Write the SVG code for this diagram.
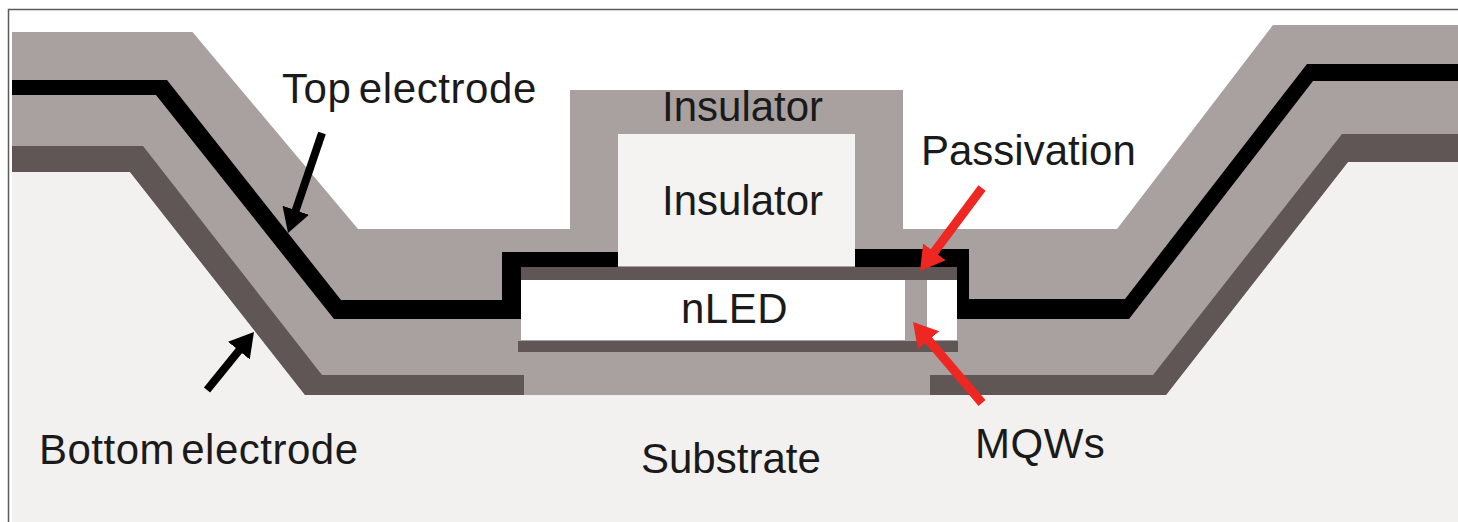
<svg xmlns="http://www.w3.org/2000/svg" width="1458" height="522" viewBox="0 0 1458 522">
<style>
.gray{fill:#a9a19f}.dark{fill:#5f5755}.black{fill:#000}.sub{fill:#f2f1ef}.white{fill:#fff}
text{font-family:"Liberation Sans",Arial,sans-serif;font-size:42px;fill:#1a1a1a}
.ka{stroke:#000;stroke-width:8;fill:none;marker-end:url(#ah)}
.ra{stroke:#ee2722;stroke-width:9;fill:none;marker-end:url(#rh)}
</style>
<defs>
<filter id="soft" x="-2%" y="-2%" width="104%" height="104%"><feGaussianBlur stdDeviation="0.6"/></filter>
<marker id="ah" markerUnits="userSpaceOnUse" markerWidth="30" markerHeight="30" refX="8" refY="14" orient="auto"><path d="M0 0L24 14L0 28Z" fill="#000"/></marker>
<marker id="rh" markerUnits="userSpaceOnUse" markerWidth="32" markerHeight="32" refX="8" refY="14" orient="auto"><path d="M0 0L24 14L0 28Z" fill="#ee2722"/></marker>
</defs>
<rect width="1458" height="522" fill="#fff"/>
<path d="M8.500 522V9.500H1458" fill="none" stroke="#5a5a5a" stroke-width="1.500"/>
<g id="layers" filter="url(#soft)">
<g id="substrate"><path class="sub" d="M12 172H130L305 395H1166L1348 162H1458V522H12Z"/></g>
<g id="insulator-layer"><path class="gray" d="M12 32H192.500L358 229H570V90H903V229H1117L1273 25H1458V162H1348L1166 395H305L130 172H12Z"/></g>
<g id="bottom-electrode"><path class="dark" d="M12 146H143L322 375H524V395H305L130 172H12Z"/><path class="dark" d="M930 375H1153L1342 134H1458V162H1348L1166 395H930Z"/></g>
<g id="top-electrode"><path class="black" d="M12 80H167L341 300H502V252H618V267H521V319H334L156 95H12Z"/><path class="black" d="M855 249H969V299H1125L1307 64H1458V81H1313L1129 319H957V267H855Z"/></g>
<g id="insulator-box"><rect x="618" y="134" width="237" height="132" fill="#f4f3f1"/></g>
<g id="nled"><rect class="dark" x="521" y="267" width="436" height="13"/><rect class="white" x="521" y="280" width="436" height="60"/><rect class="gray" x="905" y="280" width="22" height="62"/><rect class="dark" x="518" y="341" width="440" height="11"/></g>
</g>
<g id="connectors">
<path class="ka" d="M322 133L293.200 217.800"/>
<path class="ka" d="M207 390L243.900 344.400"/>
<path class="ra" d="M982 188L929.600 258.200"/>
<path class="ra" d="M982 403L923.400 334.200"/>
</g>
<g id="labels">
<text x="282" y="103" letter-spacing="0.6" word-spacing="-5">Top electrode</text>
<text x="662" y="121">Insulator</text>
<text x="662" y="215">Insulator</text>
<text x="921" y="165">Passivation</text>
<text x="681" y="323" letter-spacing="0.5">nLED</text>
<text x="975" y="458" letter-spacing="0.5">MQWs</text>
<text x="641" y="473">Substrate</text>
<text x="39" y="464" letter-spacing="0.5" word-spacing="-6">Bottom electrode</text>
</g>
</svg>
